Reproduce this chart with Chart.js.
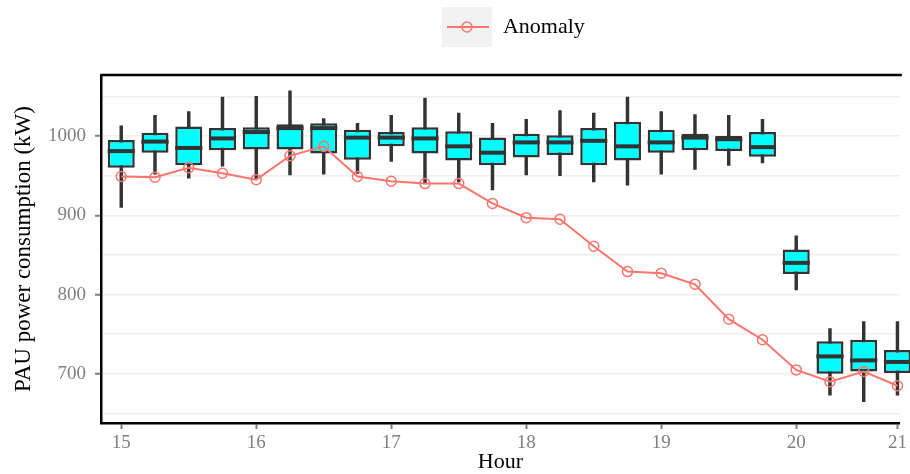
<!DOCTYPE html>
<html>
<head>
<meta charset="utf-8">
<script src="https://cdn.jsdelivr.net/npm/chart.js@4.4.1/dist/chart.umd.min.js"></script>
<style>
  html, body { margin: 0; padding: 0; background: #fff; overflow: hidden; }
  #wrap { width: 910px; height: 474px; }
</style>
</head>
<body>
<div id="wrap"><canvas id="chart" width="910" height="474"></canvas></div>
<script>
// Time slots (hour of day) for each box
const hours = [15, 15.25, 15.5, 15.75, 16, 16.25, 16.5, 16.75, 17, 17.25, 17.5, 17.75,
               18, 18.25, 18.5, 18.75, 19, 19.25, 19.5, 19.75, 20, 20.33, 20.67, 21];

// Box statistics per slot (kW)
const whiskerHigh = [1013, 1026, 1031, 1049, 1050, 1057, 1022, 1016, 1026, 1048, 1029, 1016,
                     1021, 1032, 1029, 1049, 1031, 1027, 1026, 1021, 874, 757, 766, 766];
const upperQ = [995, 1004, 1012, 1010, 1011, 1015, 1016, 1008, 1005, 1011, 1006, 998,
                1003, 1001, 1010, 1018, 1008, 1003, 1000, 1005, 857, 741, 743, 730];
const median = [981, 993, 985, 997, 1005, 1010, 1010, 998, 998, 997, 987, 979,
                992, 992, 994, 987, 992, 998, 996, 986, 840, 722, 717, 715];
const lowerQ = [960, 979, 963, 982, 983, 983, 978, 970, 987, 978, 969, 963,
                973, 976, 963, 969, 979, 982, 981, 974, 826, 700, 703, 701];
const whiskerLow = [910, 952, 947, 962, 946, 951, 952, 953, 968, 941, 942, 932,
                    951, 950, 942, 938, 952, 958, 963, 966, 806, 673, 665, 673];

// Anomalous day
const anomaly = [949, 948, 960, 953, 945, 975, 987, 949, 943, 940, 940, 915,
                 897, 895, 861, 829, 827, 813, 769, 743, 705, 690, 703, 685];

// Axis labels
const xTickHours = [15, 16, 17, 18, 19, 20, 21];
const yTickValues = [700, 800, 900, 1000];

const serif = "'Liberation Serif', 'Times New Roman', serif";
const xTickPos = xTickHours.map(h => hours.indexOf(h));

// legend key: grey square with line + open circle
function legendKey() {
  const c = document.createElement('canvas');
  c.width = 76; c.height = 40;
  const g = c.getContext('2d');
  g.fillStyle = '#f2f2f2';
  g.fillRect(26, 0, 50, 40);
  g.strokeStyle = '#F8766D';
  g.lineWidth = 2;
  g.beginPath();
  g.moveTo(31, 20); g.lineTo(73, 20);
  g.stroke();
  g.lineWidth = 1.5;
  g.beginPath();
  g.arc(51, 20, 5, 0, Math.PI * 2);
  g.stroke();
  return c;
}

const frame = {
  id: 'frame',
  afterDraw(chart) {
    const {ctx, chartArea} = chart;
    ctx.save();
    ctx.strokeStyle = '#000';
    ctx.lineWidth = 2.5;
    ctx.beginPath();
    ctx.moveTo(chartArea.left, chartArea.top);
    ctx.lineTo(chartArea.right + 2, chartArea.top);
    ctx.stroke();
    ctx.restore();
  }
};

const legendGap = {
  id: 'legendGap',
  beforeInit(chart) {
    const fit = chart.legend.fit;
    chart.legend.fit = function () {
      fit.bind(chart.legend)();
      this.height += 27;
    };
  }
};

new Chart(document.getElementById('chart'), {
  type: 'bar',
  data: {
    datasets: [
      {
        type: 'line',
        label: 'Anomaly',
        data: anomaly.map((v, i) => ({x: i, y: v})),
        borderColor: '#F8766D',
        borderWidth: 2,
        pointStyle: 'circle',
        pointRadius: 5,
        pointBorderWidth: 1.5,
        pointBorderColor: '#F8766D',
        pointBackgroundColor: 'rgba(0,0,0,0)',
        tension: 0,
        clip: false,
        order: 0
      },
      {
        type: 'line',
        label: 'median',
        data: median.map((v, i) => ({x: i, y: v})),
        showLine: false,
        pointStyle: 'line',
        pointRadius: 13.6,
        pointBorderWidth: 4,
        pointBorderColor: '#333333',
        clip: false,
        order: 1
      },
      {
        label: 'box',
        data: upperQ.map((v, i) => ({x: i, y: [lowerQ[i], v]})),
        backgroundColor: '#00FFFF',
        borderColor: '#333333',
        borderWidth: 2.5,
        borderSkipped: false,
        grouped: false,
        barPercentage: 1,
        categoryPercentage: 0.8,
        clip: false,
        order: 2
      },
      {
        label: 'whisker',
        data: whiskerHigh.map((v, i) => ({x: i, y: [whiskerLow[i], v]})),
        backgroundColor: '#333333',
        borderWidth: 0,
        grouped: false,
        barThickness: 2.8,
        order: 3
      }
    ]
  },
  options: {
    responsive: false,
    animation: false,
    layout: { autoPadding: false, padding: { left: 0, right: 0, top: 0, bottom: 0 } },
    plugins: {
      tooltip: { enabled: false },
      legend: {
        position: 'top',
        fullSize: false,
        labels: {
          filter: item => item.text === 'Anomaly',
          usePointStyle: true,
          pointStyle: legendKey(),
          pointStyleWidth: 76,
          padding: 16,
          color: '#000',
          font: { family: serif, size: 22 }
        }
      }
    },
    scales: {
      x: {
        type: 'linear',
        offset: false,
        min: -0.6,
        max: 23.07,
        afterBuildTicks: axis => { axis.ticks = xTickPos.map(v => ({value: v})); },
        afterFit: axis => { axis.height = 51; },
        ticks: {
          autoSkip: false,
          maxRotation: 0,
          padding: 3,
          color: '#7f7f7f',
          font: { family: serif, size: 19 },
          callback: v => String(xTickHours[xTickPos.indexOf(v)])
        },
        grid: {
          offset: false,
          drawOnChartArea: false,
          drawTicks: true,
          tickLength: 6,
          tickWidth: 2,
          tickColor: '#7f7f7f'
        },
        border: { color: '#000', width: 2.5 },
        title: {
          display: true,
          text: 'Hour',
          color: '#000',
          padding: 0,
          font: { family: serif, size: 22, lineHeight: 1.1 }
        }
      },
      y: {
        min: 638,
        max: 1077,
        afterBuildTicks: axis => {
          const t = [];
          for (let v = 650; v <= 1050; v += 50) t.push({value: v});
          axis.ticks = t;
        },
        afterFit: axis => { axis.width = 101; },
        ticks: {
          padding: 9,
          color: '#7f7f7f',
          font: { family: serif, size: 19 },
          callback: v => yTickValues.includes(v) ? String(v) : ''
        },
        grid: {
          color: '#efefef',
          lineWidth: 1.5,
          tickLength: 6,
          tickWidth: 2,
          tickColor: ctx => ctx.tick && yTickValues.includes(ctx.tick.value) ? '#7f7f7f' : 'rgba(0,0,0,0)'
        },
        border: { color: '#000', width: 2.5 },
        title: {
          display: true,
          text: 'PAU power consumption (kW)',
          color: '#000',
          padding: { top: 10, bottom: 0 },
          font: { family: serif, size: 23, lineHeight: 1.2 }
        }
      }
    }
  },
  plugins: [legendGap, frame]
});
</script>
</body>
</html>
